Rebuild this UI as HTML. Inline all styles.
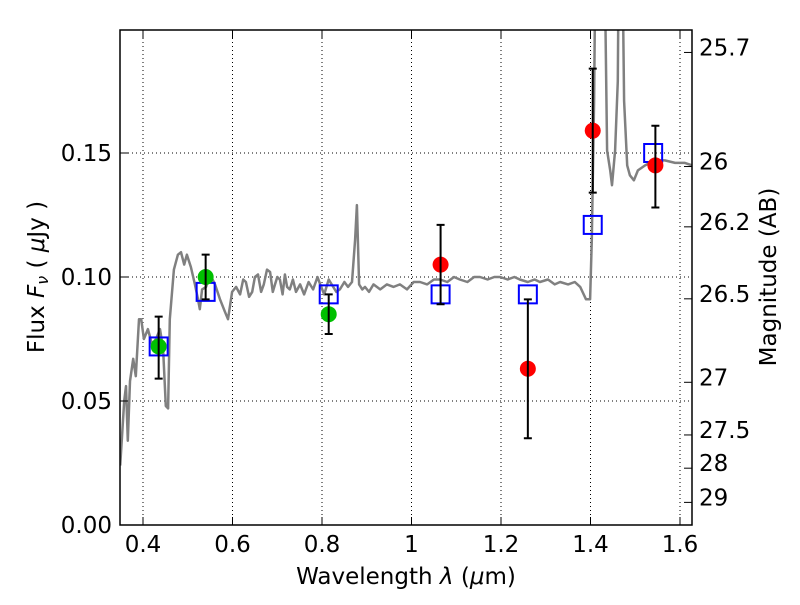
<!DOCTYPE html>
<html><head><meta charset="utf-8"><style>
body{margin:0;background:#fff;font-family:"Liberation Sans","DejaVu Sans",sans-serif}
svg text{font-family:"DejaVu Sans","Liberation Sans",sans-serif;font-size:23px;fill:#000}
</style></head><body>
<svg id="chart" width="800" height="600" xmlns="http://www.w3.org/2000/svg">
<defs><clipPath id="clip"><rect x="120" y="30" width="572" height="495"/></clipPath></defs>
<rect x="0" y="0" width="800" height="600" fill="#fff"/>
<g id="grid"></g>
<g id="spec" clip-path="url(#clip)"></g>
<g id="marks"></g>
<rect x="120" y="30" width="572" height="495" fill="none" stroke="#000" stroke-width="1.5"/>
<g id="axes"></g>
<text x="406" y="584" text-anchor="middle">Wavelength  <tspan font-style="italic">λ</tspan> (<tspan font-style="italic">μ</tspan>m)</text>
<text transform="translate(44,277) rotate(-90)" text-anchor="middle">Flux  <tspan font-style="italic">F<tspan font-size="16" dy="4">ν</tspan></tspan><tspan dy="-4">  ( </tspan><tspan font-style="italic">μ</tspan>Jy )</text>
<text transform="translate(776,277) rotate(-90)" text-anchor="middle">Magnitude (AB)</text>
</svg>
<script>
const specW=[0.349,0.358,0.362,0.366,0.371,0.378,0.384,0.391,0.396,0.402,0.411,0.420,0.429,0.438,0.445,0.451,0.456,0.460,0.469,0.478,0.485,0.492,0.498,0.507,0.516,0.523,0.527,0.532,0.541,0.550,0.561,0.572,0.583,0.590,0.599,0.608,0.617,0.624,0.630,0.637,0.644,0.650,0.657,0.664,0.670,0.677,0.684,0.690,0.695,0.700,0.706,0.712,0.717,0.722,0.728,0.735,0.742,0.751,0.760,0.770,0.780,0.790,0.796,0.805,0.815,0.825,0.832,0.840,0.850,0.858,0.867,0.874,0.878,0.883,0.890,0.896,0.905,0.915,0.930,0.945,0.960,0.974,0.990,1.005,1.019,1.035,1.050,1.064,1.080,1.095,1.108,1.125,1.140,1.153,1.170,1.185,1.198,1.215,1.230,1.242,1.260,1.275,1.287,1.305,1.320,1.332,1.350,1.365,1.377,1.390,1.399,1.403,1.408,1.412,1.430,1.437,1.444,1.448,1.455,1.461,1.464,1.470,1.475,1.482,1.488,1.497,1.506,1.522,1.544,1.566,1.589,1.611,1.627];
const specF=[0.024,0.050,0.056,0.034,0.058,0.067,0.060,0.083,0.083,0.075,0.079,0.073,0.075,0.079,0.071,0.048,0.047,0.083,0.103,0.109,0.110,0.105,0.109,0.104,0.097,0.091,0.087,0.095,0.096,0.101,0.097,0.091,0.086,0.083,0.094,0.096,0.093,0.099,0.098,0.092,0.094,0.100,0.101,0.094,0.097,0.103,0.102,0.094,0.097,0.100,0.099,0.093,0.101,0.096,0.095,0.099,0.094,0.097,0.093,0.098,0.095,0.100,0.097,0.093,0.099,0.096,0.094,0.095,0.098,0.096,0.098,0.115,0.129,0.097,0.095,0.096,0.094,0.097,0.095,0.097,0.096,0.097,0.095,0.098,0.098,0.097,0.099,0.099,0.098,0.100,0.099,0.098,0.100,0.100,0.099,0.100,0.100,0.099,0.100,0.099,0.098,0.099,0.098,0.099,0.097,0.098,0.097,0.098,0.096,0.091,0.091,0.115,0.171,0.25,0.25,0.151,0.143,0.137,0.151,0.179,0.25,0.25,0.171,0.145,0.141,0.139,0.143,0.145,0.147,0.147,0.146,0.146,0.145];
const sqW=[0.435,0.54,0.815,1.065,1.26,1.405,1.54];
const sqF=[0.072,0.094,0.093,0.093,0.093,0.121,0.150];
const grW=[0.435,0.54,0.815];
const grF=[0.072,0.100,0.085];
const grLo=[0.059,0.091,0.077];
const grHi=[0.084,0.109,0.093];
const rdW=[1.065,1.26,1.405,1.545];
const rdF=[0.105,0.063,0.159,0.145];
const rdLo=[0.089,0.035,0.134,0.128];
const rdHi=[0.121,0.091,0.184,0.161];
const xTicks=[0.4,0.6,0.8,1.0,1.2,1.4,1.6];
const xTickLabels=["0.4","0.6","0.8","1","1.2","1.4","1.6"];
const yTicks=[0,0.05,0.10,0.15];
const yTickLabels=["0.00","0.05","0.10","0.15"];
const magTicks=[25.7,26,26.2,26.5,27,27.5,28,29];
const magLabels=["25.7","26","26.2","26.5","27","27.5","28","29"];

const NS="http://www.w3.org/2000/svg";
const X=w=>143+(w-0.4)*447.5;
const Y=f=>525-f*2480;
function mk(t,a,p){const e=document.createElementNS(NS,t);for(const k in a)e.setAttribute(k,a[k]);p.appendChild(e);return e;}
const grid=document.getElementById('grid'),axes=document.getElementById('axes'),marks=document.getElementById('marks'),spec=document.getElementById('spec');
xTicks.forEach((t,i)=>{
  const g=mk('line',{x1:X(t),x2:X(t),y1:30,y2:525,stroke:'#000','stroke-dasharray':'1,3','stroke-width':1},grid);
  
  mk('line',{x1:X(t),x2:X(t),y1:525,y2:517,stroke:'#000'},axes);
  mk('line',{x1:X(t),x2:X(t),y1:30,y2:38,stroke:'#000'},axes);
  const l=mk('text',{x:X(t),y:552,'text-anchor':'middle'},axes);l.textContent=xTickLabels[i];
  
});
yTicks.forEach((t,i)=>{
  if(t>0){const g=mk('line',{x1:120,x2:692,y1:Y(t),y2:Y(t),stroke:'#000','stroke-dasharray':'1,3','stroke-width':1},grid);
  }
  mk('line',{x1:120,x2:128,y1:Y(t),y2:Y(t),stroke:'#000'},axes);
  const l=mk('text',{x:112,y:Y(t)+8,'text-anchor':'end'},axes);l.textContent=yTickLabels[i];
  
});
magTicks.forEach((m,i)=>{
  const f=Math.pow(10,(23.9-m)/2.5);const y=Y(f);
  mk('line',{x1:684,x2:692,y1:y,y2:y,stroke:'#000'},axes);
  const l=mk('text',{x:699,y:y+3,'text-anchor':'start'},axes);l.textContent=magLabels[i];
  
});
let d='';specW.forEach((w,i)=>{d+=(i?'L':'M')+X(w).toFixed(1)+','+Y(specF[i]).toFixed(1);});
const sp=mk('path',{d:d,fill:'none',stroke:'#808080','stroke-width':2.5,'stroke-linejoin':'round'},spec);

sqW.forEach((w,i)=>{
  const r=mk('rect',{x:X(w)-9,y:Y(sqF[i])-9,width:18,height:18,fill:'none',stroke:'#0000ff','stroke-width':2},marks);
  
});
function pts(W,F,Lo,Hi,col,name){
  W.forEach((w,i)=>{
    const c=mk('circle',{cx:X(w),cy:Y(F[i]),r:8,fill:col},marks);
    
    const x=X(w);
    const e=mk('path',{d:`M${x},${Y(Lo[i])}L${x},${Y(Hi[i])}M${x-4},${Y(Lo[i])}L${x+4},${Y(Lo[i])}M${x-4},${Y(Hi[i])}L${x+4},${Y(Hi[i])}`,stroke:'#000','stroke-width':2,fill:'none'},marks);
    
  });
}
pts(grW,grF,grLo,grHi,'#00c000','detection-green');
pts(rdW,rdF,rdLo,rdHi,'#ff0000','detection-red');
</script>
</body></html>
